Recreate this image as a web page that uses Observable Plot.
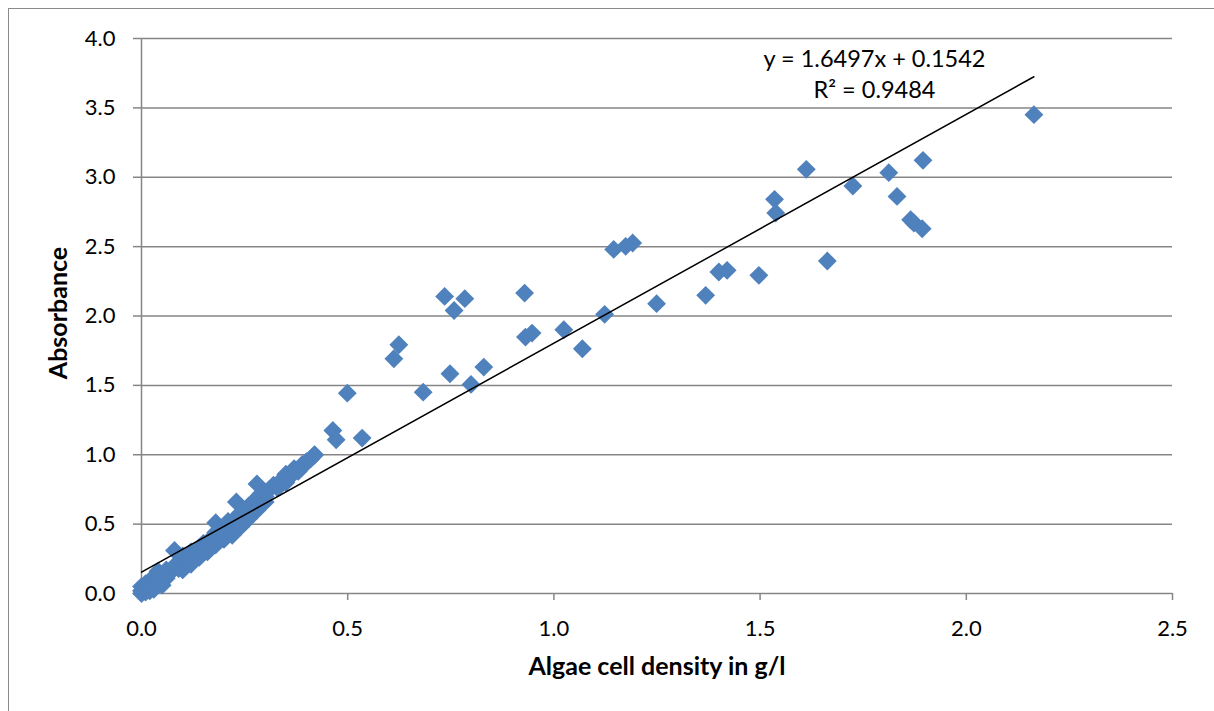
<!DOCTYPE html>
<html><head><meta charset="utf-8">
<script src="https://cdn.jsdelivr.net/npm/d3@7"></script>
<script src="https://cdn.jsdelivr.net/npm/@observablehq/plot@0.6"></script>
<style>
html,body{margin:0;padding:0;background:#fff;overflow:hidden;width:1214px;height:711px;}
#frame{position:absolute;left:8px;top:8px;width:1400px;height:900px;border-left:1px solid #8a8a8a;border-top:1px solid #8a8a8a;}
#chart{position:absolute;left:0;top:0;}
</style></head><body><div id="frame"></div><div id="chart"></div>
<script>
// Algae cell density (g/l)
const density = [
  0.00,0.00,0.01,0.01,0.02,0.02,0.03,0.03,0.04,0.04,0.05,0.06,0.06,0.07,0.08,0.08,0.09,0.10,0.10,0.11,
  0.12,0.13,0.14,0.15,0.16,0.17,0.18,0.18,0.19,0.20,0.21,0.22,0.23,0.23,0.24,0.25,0.26,0.27,0.28,0.28,
  0.29,0.30,0.31,0.32,0.33,0.34,0.35,0.35,0.36,0.37,0.38,0.39,0.40,0.41,0.42,
  0.00,0.01,0.02,0.03,0.05,0.10,0.12,0.14,0.16,0.18,0.20,0.22,0.24,0.26,0.28,0.30,
  0.386,0.402,0.418,0.464,0.472,0.499,0.535,0.612,0.624,0.683,0.735,0.748,0.758,0.784,0.799,0.830,
  0.929,0.931,0.947,1.024,1.069,1.123,1.145,1.174,1.191,1.249,1.368,1.400,1.420,1.497,1.535,1.538,
  1.612,1.663,1.725,1.812,1.832,1.865,1.873,1.893,1.895,2.164
];
// Absorbance
const absorbance = [
  0.02,0.05,0.03,0.07,0.04,0.09,0.06,0.12,0.10,0.16,0.13,0.11,0.17,0.15,0.20,0.31,0.18,0.22,0.27,0.25,
  0.30,0.28,0.33,0.36,0.34,0.40,0.44,0.51,0.42,0.47,0.52,0.50,0.55,0.66,0.58,0.60,0.63,0.66,0.79,0.68,
  0.72,0.70,0.75,0.78,0.76,0.82,0.80,0.86,0.84,0.90,0.88,0.93,0.95,0.97,1.00,
  0.00,0.01,0.02,0.03,0.06,0.17,0.21,0.26,0.30,0.35,0.39,0.42,0.48,0.54,0.60,0.66,
  0.911,0.947,0.995,1.175,1.108,1.444,1.120,1.692,1.793,1.451,2.141,1.584,2.040,2.125,1.507,1.632,
  2.165,1.848,1.877,1.901,1.764,2.012,2.480,2.502,2.526,2.089,2.149,2.317,2.329,2.293,2.841,2.742,
  3.057,2.396,2.937,3.033,2.862,2.694,2.670,2.629,3.122,3.451
];
const xTicks = [0, 0.5, 1.0, 1.5, 2.0, 2.5];
const yTicks = [0, 0.5, 1.0, 1.5, 2.0, 2.5, 3.0, 3.5, 4.0];
const slope = 1.6497, intercept = 0.1542;
const equationText = "y = 1.6497x + 0.1542";
const r2Text = "R² = 0.9484";
const xTitle = "Algae cell density in g/l";
const yTitle = "Absorbance";

const points = density.map((x, i) => ({x, y: absorbance[i]}));
const xMax = d3.max(density);
const trend = [0, xMax].map(x => ({x, y: slope * x + intercept}));

const grid = "#868686";
const chart = Plot.plot({
  width: 1214, height: 711,
  marginLeft: 141, marginRight: 42, marginTop: 38, marginBottom: 118,
  x: {domain: [0, 2.5]},
  y: {domain: [0, 4]},
  style: {fontFamily: "Lato, 'Open Sans', sans-serif", fontSize: "22px", background: "transparent", color: "#000", overflow: "visible"},
  marks: [
    Plot.ruleY(yTicks, {stroke: grid, strokeWidth: 1.5}),
    Plot.ruleX([0], {stroke: grid, strokeWidth: 1.5}),
    Plot.axisY(yTicks, {tickSize: 8, tickPadding: 18, tickFormat: d3.format(".1f"), stroke: grid, strokeWidth: 1.5, fill: "#000", fontSize: 22, label: null}),
    Plot.axisX(xTicks, {tickSize: 7, tickPadding: 20, tickFormat: d3.format(".1f"), stroke: grid, strokeWidth: 1.5, fill: "#000", fontSize: 22, label: null}),
    Plot.dot(points, {x: "x", y: "y", symbol: "diamond2", r: 8.5, fill: "#4F81BD", stroke: "none"}),
    Plot.line(trend, {x: "x", y: "y", stroke: "#000", strokeWidth: 1.5}),
    Plot.text([xTitle], {frameAnchor: "bottom", lineAnchor: "middle", textAnchor: "middle", dy: 73, fontWeight: "bold", fontSize: 25, fill: "#000"}),
    Plot.text([yTitle], {frameAnchor: "left", lineAnchor: "middle", textAnchor: "middle", dx: -83, dy: -3, rotate: -90, fontWeight: "bold", fontSize: 25, fill: "#000"}),
    Plot.text([equationText], {frameAnchor: "top-right", lineAnchor: "middle", dx: -298, dy: 21, textAnchor: "middle", fontSize: 23.5, fill: "#000"}),
    Plot.text([r2Text], {frameAnchor: "top-right", lineAnchor: "middle", dx: -298, dy: 52, textAnchor: "middle", fontSize: 23.5, fill: "#000"})
  ]
});
document.getElementById("chart").appendChild(chart);
</script></body></html>
